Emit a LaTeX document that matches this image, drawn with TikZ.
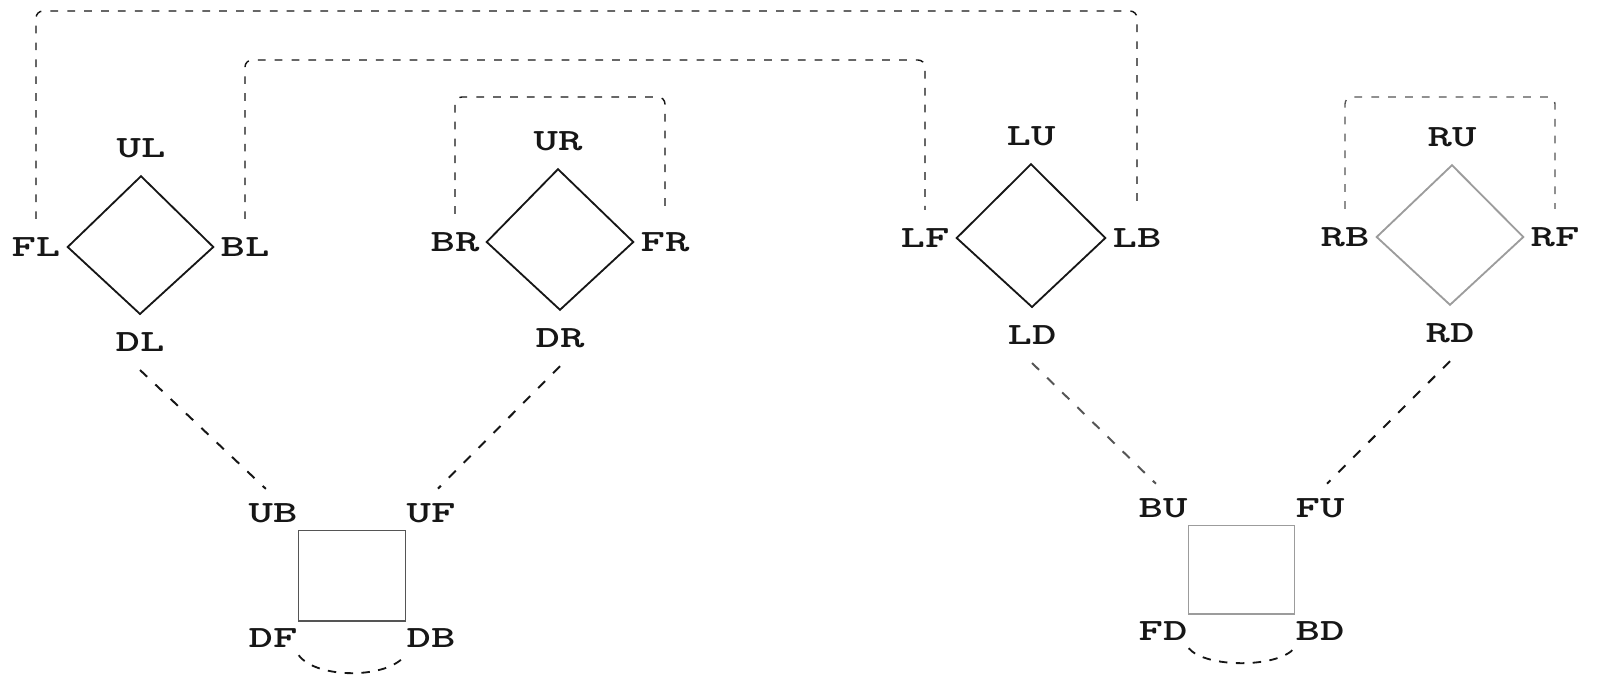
\documentclass[tikz,border=0pt]{standalone}
\usepackage{fontspec}
\newfontfamily\cubefont[FakeStretch=1.5]{lmmonolt10-bold.otf}
\definecolor{CubeInk}{HTML}{161616}
\definecolor{CubeGrey}{HTML}{555555}
\definecolor{CubeFaint}{HTML}{9C9C9C}
\tikzset{
  cubelabel/.style={font={\cubefont\fontsize{22}{23}\selectfont},text=CubeInk,inner xsep=5pt,inner ysep=13pt},
  squarelabel/.style={cubelabel,inner xsep=0.7pt,inner ysep=5.3pt},
  cubeface/.style={line width=1.3pt},
  cubesquare/.style={CubeGrey,line width=1pt},
  cubelink/.style={CubeInk,line width=1pt,dash pattern=on 5.5pt off 6.5pt,rounded corners=5pt},
  cubetwist/.style={CubeInk,line width=1.4pt,dash pattern=on 7pt off 8pt,shorten >=7pt},
  cubehinge/.style={CubeInk,line width=1.3pt,dash pattern=on 6pt off 6pt}
}
\begin{document}
\begin{tikzpicture}[x=0.025cm,y=-0.025cm]
  \useasboundingbox (0,0) rectangle (1600,676);
  \foreach \n/\x/\y in {UL/141/148,FL/36/247,BL/245/247,DL/140/342,
    UR/558/141,BR/455/242,FR/665/242,DR/560/338,
    LU/1031/136,LF/925/238,LB/1137/238,LD/1032/335,
    RU/1452/137,RB/1345/237,RF/1555/237,RD/1450/333} {
    \node[cubelabel] (\n) at (\x,\y) {\n};
  }
  \foreach \n/\x/\y in {UB/273/513,UF/431/513,DF/273/638,DB/431/638,
    BU/1163/508,FU/1320/508,FD/1163/631,BD/1320/631} {
    \node[squarelabel] (\n) at (\x,\y) {\n};
  }
  \foreach \l/\t/\r/\b/\c in {FL/UL/BL/DL/CubeInk,BR/UR/FR/DR/CubeInk,
    LF/LU/LB/LD/CubeInk,RB/RU/RF/RD/CubeFaint} {
    \draw[cubeface,\c] (\l.east) -- (\t.south) -- (\r.west) -- (\b.north) -- cycle;
  }
  \draw[cubesquare] (UB.south east) -- (UF.south west) -- (DB.north west) -- (DF.north east) -- cycle;
  \draw[cubesquare,CubeFaint] (BU.south east) -- (FU.south west) -- (BD.north west) -- (FD.north east) -- cycle;
  \coordinate (roofA) at (600,11);
  \coordinate (roofB) at (600,60);
  \coordinate (roofC) at (560,97);
  \coordinate (roofD) at (1450,97);
  \draw[cubelink] (FL.north) |- (roofA) -| (LB.north);
  \draw[cubelink] (BL.north) |- (roofB) -| (LF.north);
  \draw[cubelink] (BR.north) |- (roofC) -| (FR.north);
  \draw[cubelink,CubeGrey] (RB.north) |- (roofD) -| (RF.north);
  \draw[cubetwist] (DL.south) -- (UB.north);
  \draw[cubetwist] (DR.south) -- (UF.north);
  \draw[cubetwist,CubeGrey] (LD.south) -- (BU.north);
  \draw[cubetwist] (RD.south) -- (FU.north);
  \draw[cubehinge] (DF.south east) .. controls +(18,24) and +(-18,24) .. (DB.south west);
  \draw[cubehinge] (FD.south east) .. controls +(17,20) and +(-17,20) .. (BD.south west);
\end{tikzpicture}
\end{document}
